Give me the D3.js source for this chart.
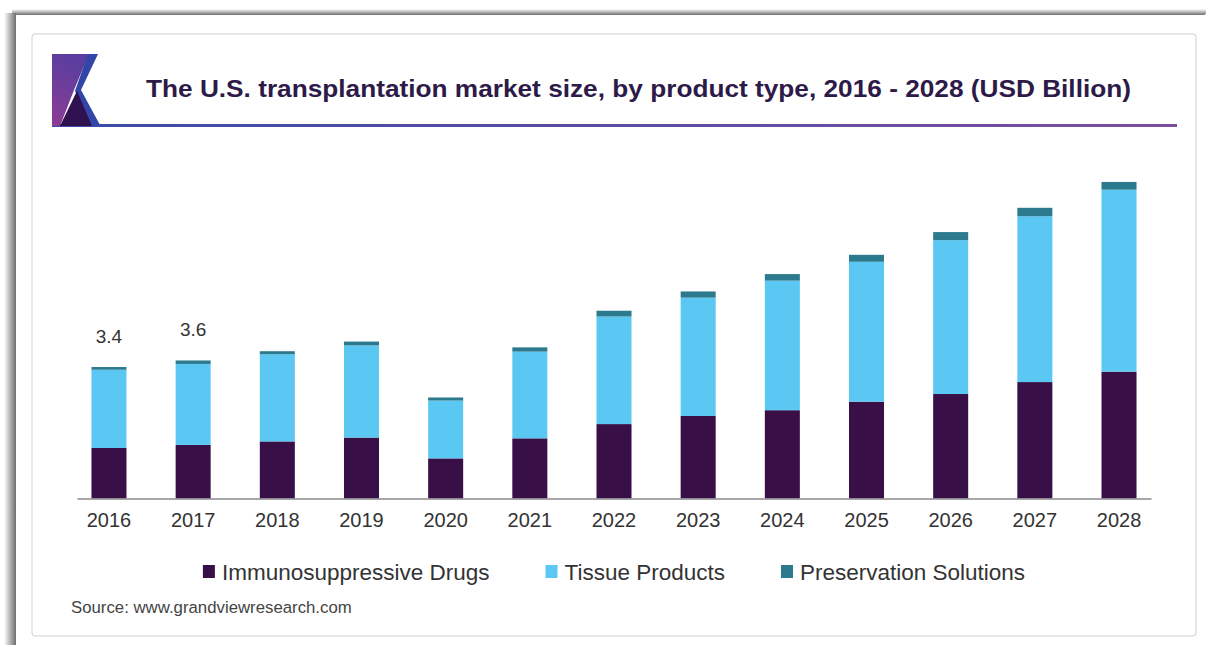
<!DOCTYPE html>
<html>
<head>
<meta charset="utf-8">
<script src="https://cdn.jsdelivr.net/npm/d3@7"></script>
<style>
  body { margin: 0; background: #fff; }
  text { font-family: "Liberation Sans", Arial, sans-serif; }
</style>
</head>
<body>
<div id="chart"></div>
<script>
// Data (USD Billion)
const years = ["2016", "2017", "2018", "2019", "2020", "2021", "2022", "2023", "2024", "2025", "2026", "2027", "2028"];
const immunoDrugs = [1.31, 1.39, 1.48, 1.58, 1.04, 1.56, 1.93, 2.14, 2.29, 2.51, 2.71, 3.02, 3.29];
const tissueProducts = [2.03, 2.10, 2.26, 2.39, 1.50, 2.25, 2.79, 3.07, 3.36, 3.63, 3.99, 4.30, 4.72];
const preservation = [0.07, 0.09, 0.08, 0.10, 0.08, 0.11, 0.15, 0.16, 0.17, 0.18, 0.21, 0.22, 0.20];
const seriesNames = ["Immunosuppressive Drugs", "Tissue Products", "Preservation Solutions"];
const totalLabels = ["3.4", "3.6"];

const colors = ["#380f47", "#5bc8f4", "#2b7a8d"];

const W = 1216, H = 654;
const plot = { left: 77, right: 1151, baseline: 498.5, top: 151.5 };

const svg = d3.select("#chart")
  .append("svg")
  .attr("width", W)
  .attr("height", H);

const defs = svg.append("defs");

// shadow gradients for the outer frame
const gTop = defs.append("linearGradient").attr("id", "shTop")
  .attr("x1", 0).attr("y1", 0).attr("x2", 0).attr("y2", 1);
gTop.append("stop").attr("offset", "0%").attr("stop-color", "#fff");
gTop.append("stop").attr("offset", "100%").attr("stop-color", "#6e6e6e");

const gLeft = defs.append("linearGradient").attr("id", "shLeft")
  .attr("x1", 0).attr("y1", 0).attr("x2", 1).attr("y2", 0);
gLeft.append("stop").attr("offset", "0%").attr("stop-color", "#fff");
gLeft.append("stop").attr("offset", "100%").attr("stop-color", "#6e6e6e");

const gLine = defs.append("linearGradient").attr("id", "underline")
  .attr("x1", 0).attr("y1", 0).attr("x2", 1).attr("y2", 0);
gLine.append("stop").attr("offset", "0%").attr("stop-color", "#3a4ba8");
gLine.append("stop").attr("offset", "100%").attr("stop-color", "#7c4e9f");

const gLogo = defs.append("linearGradient").attr("id", "logoPurple")
  .attr("x1", 0.3).attr("y1", 0).attr("x2", 0).attr("y2", 1);
gLogo.append("stop").attr("offset", "0%").attr("stop-color", "#5a3e9f");
gLogo.append("stop").attr("offset", "100%").attr("stop-color", "#8d3b95");

// outer frame
svg.append("rect").attr("x", 12).attr("y", 9).attr("width", 1194).attr("height", 6)
  .attr("rx", 2).attr("fill", "url(#shTop)");
svg.append("rect").attr("x", 4).attr("y", 13).attr("width", 12).attr("height", 632)
  .attr("fill", "url(#shLeft)");

// card
svg.append("rect")
  .attr("x", 32).attr("y", 34)
  .attr("width", 1164).attr("height", 602)
  .attr("rx", 3)
  .attr("fill", "#fff")
  .attr("stroke", "#cfcfcf")
  .attr("stroke-width", 1);

// header: logo + underline
svg.append("rect").attr("x", 52).attr("y", 124).attr("width", 1125).attr("height", 3)
  .attr("fill", "url(#underline)");

const logo = svg.append("g");
logo.append("polygon")
  .attr("points", "52,54 89,54 74,90 60,126 52,126")
  .attr("fill", "url(#logoPurple)");
logo.append("polygon")
  .attr("points", "88,54 98,54 81,90 100,125 91,126 75,91")
  .attr("fill", "#3346a8");
logo.append("polygon")
  .attr("points", "60,126 77,91 92,126")
  .attr("fill", "#2f1150");

svg.append("text")
  .attr("x", 638.5)
  .attr("y", 97)
  .attr("text-anchor", "middle")
  .attr("font-size", "24.5px")
  .attr("font-weight", "bold")
  .attr("fill", "#2d1a48")
  .attr("textLength", 985)
  .attr("lengthAdjust", "spacingAndGlyphs")
  .text("The U.S. transplantation market size, by product type, 2016 - 2028 (USD Billion)");

// scales
const x = d3.scaleBand()
  .domain(years)
  .range([plot.left, plot.right])
  .paddingInner(0.584)
  .paddingOuter(0.172);

const y = d3.scaleLinear()
  .domain([0, 9])
  .range([plot.baseline, plot.top]);

// stack the series
const table = years.map((yr, i) => ({
  year: yr,
  "Immunosuppressive Drugs": immunoDrugs[i],
  "Tissue Products": tissueProducts[i],
  "Preservation Solutions": preservation[i]
}));
const stacked = d3.stack().keys(seriesNames)(table);

svg.append("g")
  .selectAll("g")
  .data(stacked)
  .enter()
  .append("g")
  .attr("fill", (d, i) => colors[i])
  .selectAll("rect")
  .data(d => d)
  .enter()
  .append("rect")
  .attr("x", d => x(d.data.year))
  .attr("y", d => y(d[1]))
  .attr("width", x.bandwidth())
  .attr("height", d => y(d[0]) - y(d[1]));

// x axis
const xAxis = svg.append("g")
  .attr("transform", "translate(0," + plot.baseline + ")")
  .call(d3.axisBottom(x).tickSize(0).tickSizeOuter(0).tickPadding(14));
xAxis.select(".domain").attr("stroke", "#8a8a8a").attr("stroke-width", 1.5);
xAxis.selectAll("text")
  .attr("font-family", "'Liberation Sans', Arial, sans-serif")
  .attr("font-size", "20px")
  .attr("fill", "#333");

// total labels on first bars
svg.append("g")
  .selectAll("text")
  .data(totalLabels)
  .enter()
  .append("text")
  .attr("x", (d, i) => x(years[i]) + x.bandwidth() / 2)
  .attr("y", (d, i) => y(immunoDrugs[i] + tissueProducts[i] + preservation[i]) - 24)
  .attr("text-anchor", "middle")
  .attr("font-size", "19px")
  .attr("fill", "#333")
  .text(d => d);

// legend
const legend = svg.append("g");
const items = legend.selectAll("g")
  .data(seriesNames)
  .enter()
  .append("g");
items.append("rect")
  .attr("width", 12).attr("height", 13)
  .attr("y", 565)
  .attr("fill", (d, i) => colors[i]);
items.append("text")
  .attr("x", 19)
  .attr("y", 580)
  .attr("font-size", "22.5px")
  .attr("fill", "#333")
  .text(d => d);

let offset = 0;
const gap = 56;
items.each(function() {
  const g = d3.select(this);
  g.attr("transform", "translate(" + offset + ",0)");
  offset += 19 + g.select("text").node().getComputedTextLength() + gap;
});
const legendWidth = offset - gap;
legend.attr("transform", "translate(" + ((plot.left + plot.right) / 2 - legendWidth / 2) + ",0)");

// source
svg.append("text")
  .attr("x", 71)
  .attr("y", 613)
  .attr("font-size", "16.8px")
  .attr("fill", "#444")
  .text("Source: www.grandviewresearch.com");
</script>
</body>
</html>
